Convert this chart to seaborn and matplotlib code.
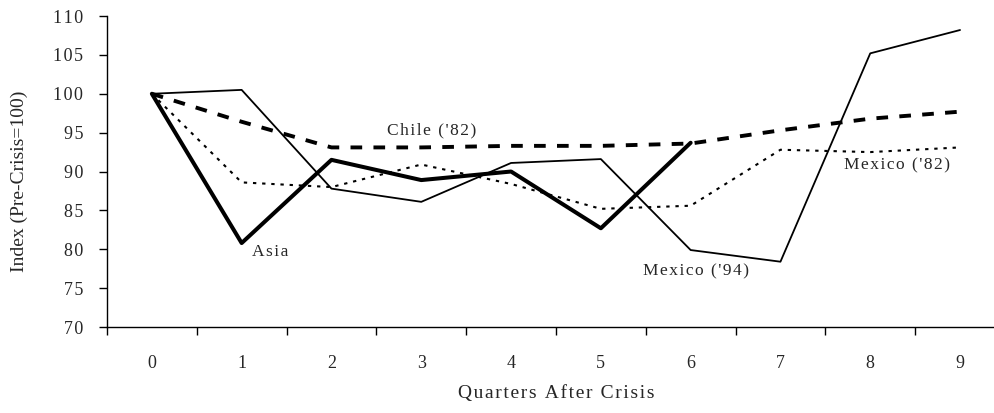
import numpy as np
import pandas as pd
import matplotlib
matplotlib.use("Agg")
import matplotlib.pyplot as plt
import seaborn as sns

# data
quarters = list(range(10))
tick_labels = [str(q) for q in quarters]
y_ticks = list(range(70, 111, 5))
asia = [100, 80.8, 91.5, 88.9, 90.0, 82.7, 93.7]
mexico_94 = [100, 100.5, 87.8, 86.1, 91.1, 91.6, 79.9, 78.4, 105.2, 108.2]
chile_82 = [100, 96.4, 93.1, 93.1, 93.3, 93.3, 93.6, 95.3, 96.8, 97.7]
mexico_82 = [100, 88.6, 88.0, 90.9, 88.4, 85.2, 85.6, 92.8, 92.5, 93.1]


def spaced(s):
    # the original uses loose letter spacing
    return "\u200a".join(s)


sns.set_style("white")
plt.rcParams['font.family'] = ['Liberation Serif', 'DejaVu Serif']

fig = plt.figure(figsize=(9.95, 4.13), dpi=100)
ax = fig.add_axes([0.1075, 0.2082, 0.9025, 0.753])

sns.lineplot(x=quarters, y=mexico_82, ax=ax, color='black', linewidth=1.5,
             linestyle=(0, (1.6, 2.8)))
sns.lineplot(x=quarters, y=chile_82, ax=ax, color='black', linewidth=2.8,
             linestyle=(0, (3, 2.9)))
sns.lineplot(x=quarters, y=mexico_94, ax=ax, color='black', linewidth=1.3)
sns.lineplot(x=quarters[:len(asia)], y=asia, ax=ax, color='black', linewidth=2.9)

# series labels
ax.text(2.62, 95.3, spaced("Chile ('82)"), fontsize=12.5, va='center')
ax.text(1.12, 79.6, spaced("Asia"), fontsize=12.5, va='center')
ax.text(5.47, 77.1, spaced("Mexico ('94)"), fontsize=12.5, va='center')
ax.text(7.71, 90.8, spaced("Mexico ('82)"), fontsize=12.5, va='center')

ax.set_xlim(-0.5, 9.5)
ax.set_ylim(70, 110)
ax.set_yticks(y_ticks)
ax.set_yticklabels([spaced(str(v)) for v in y_ticks])
ax.set_xticks(quarters)
ax.set_xticklabels(tick_labels)
ax.set_xticks(np.arange(-0.5, 10, 1), minor=True)

ax.tick_params(axis='x', which='major', length=0, pad=20, labelsize=13)
ax.tick_params(axis='x', which='minor', length=6, width=1, direction='out',
               bottom=True, color='black')
ax.tick_params(axis='y', length=6, width=1, direction='out', left=True,
               pad=11, labelsize=13, color='black')

for side in ['top', 'right']:
    ax.spines[side].set_visible(False)
for side in ['left', 'bottom']:
    ax.spines[side].set_color('black')
    ax.spines[side].set_linewidth(1)

ax.set_xlabel(spaced("Quarters After Crisis"), fontsize=14)
ax.set_ylabel("Index (Pre-Crisis=100)", fontsize=14)
ax.xaxis.set_label_coords(0.5, -0.185)
ax.yaxis.set_label_coords(-0.088, 0.468)

fig.savefig("out.png", dpi=100)
